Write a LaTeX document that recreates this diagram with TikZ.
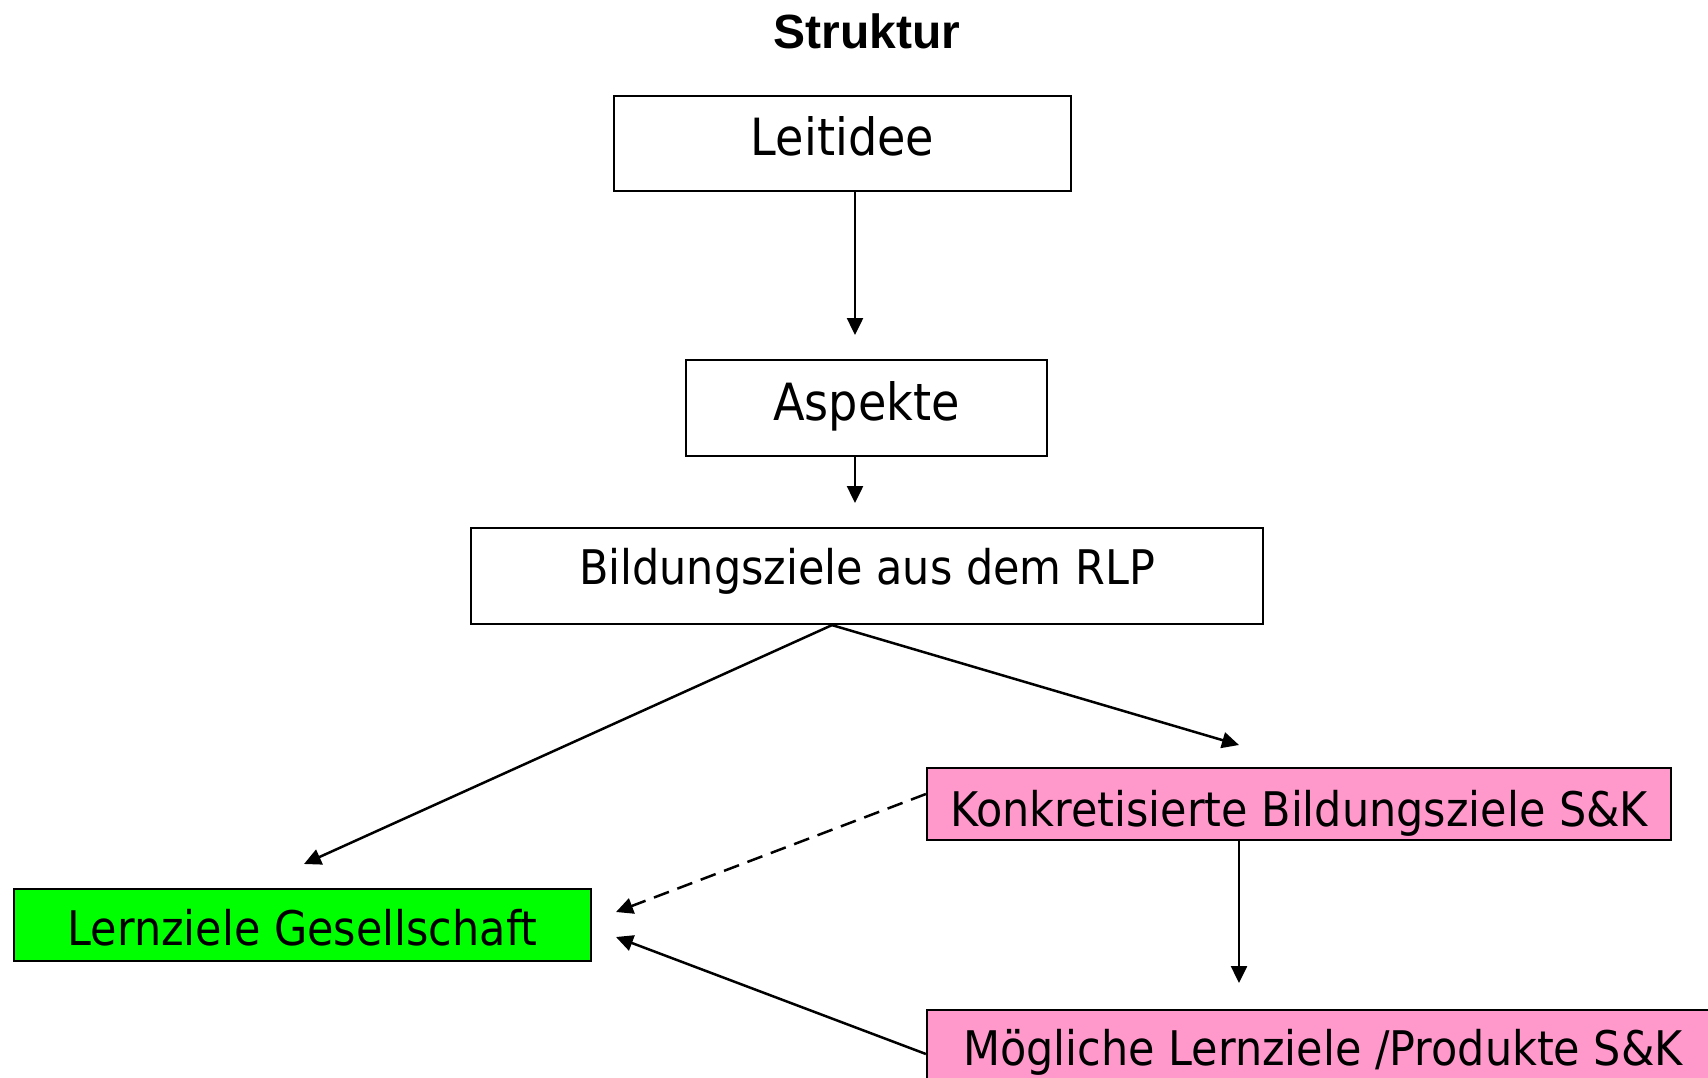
\documentclass[tikz,border=0pt]{standalone}
\usepackage{graphicx}
\usepackage{fontspec}
\setmainfont{DejaVu Sans}
\newfontfamily\titlefont{Liberation Sans}
\usetikzlibrary{arrows.meta,calc}
\definecolor{lgreen}{HTML}{00FF00}
\definecolor{lpink}{HTML}{FF99CC}
\newcommand{\cx}[1]{\scalebox{0.9}[1]{#1}}
\begin{document}
\begin{tikzpicture}[x=1pt,y=-1pt,
  box/.style={draw=black, line width=2.2pt, inner sep=0pt, text depth=0pt, anchor=center},
  bigtxt/.style={font=\fontsize{51.3}{60}\selectfont},
  midtxt/.style={font=\fontsize{47.7}{56}\selectfont},
  conn/.style={line width=2.5pt, -{Triangle[length=17pt,width=16pt]}},
]
\useasboundingbox (0,0) rectangle (1708,1078);
\clip (0,0) rectangle (1708,1078);
\fill[white] (0,0) rectangle (1708,1078);
\node[font=\titlefont\bfseries\fontsize{48}{56}\selectfont, anchor=base, inner sep=0pt] (title) at (867,49) {Struktur};
\node[box, bigtxt, minimum width=457pt, minimum height=95pt, text height=25pt] (lei) at (842.5,143.5) {\cx{Leitidee}};
\node[box, bigtxt, minimum width=361pt, minimum height=96pt, text height=24pt] (asp) at (866.5,408) {\cx{Aspekte}};
\node[box, midtxt, minimum width=792pt, minimum height=96pt, text height=16pt] (bild) at (867,576) {\cx{Bildungsziele aus dem RLP}};
\node[box, midtxt, fill=lpink, minimum width=744pt, minimum height=72pt, text height=44pt] (konk) at (1299,804) {\cx{Konkretisierte Bildungsziele S\&K}};
\node[box, midtxt, fill=lgreen, minimum width=577pt, minimum height=72pt, text height=40pt] (lern) at (302.5,925) {\cx{Lernziele Gesellschaft}};
\node[box, midtxt, fill=lpink, minimum width=792pt, minimum height=72pt, text height=38pt] (mog) at (1323,1046) {\cx{Mögliche Lernziele /Produkte S\&K}};
\coordinate (t1) at (855,335);
\coordinate (t2) at (855,503);
\coordinate (t3) at (304,864);
\coordinate (t4) at (1239,745);
\coordinate (t5) at (616,912);
\coordinate (t6) at (1239,983);
\coordinate (t7) at (616,937);
\draw[conn] (lei.south -| t1) -- (t1);
\draw[conn] (asp.south -| t2) -- (t2);
\draw[conn] ($(bild.south)+(-35,0)$) -- (t3);
\draw[conn] ($(bild.south)+(-35,0)$) -- (t4);
\draw[conn, dash pattern=on 16pt off 9pt] ($(konk.west)+(0,-10)$) -- (t5);
\draw[conn] (konk.south -| t6) -- (t6);
\draw[conn] ($(mog.west)+(0,8)$) -- (t7);
\end{tikzpicture}
\end{document}
